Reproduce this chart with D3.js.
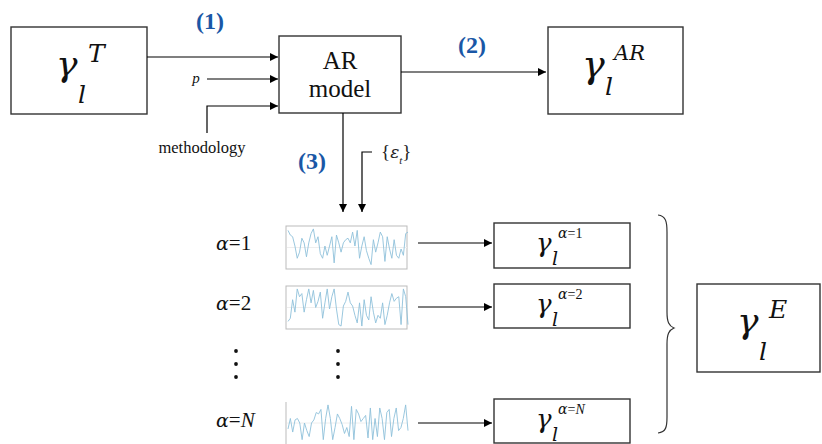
<!DOCTYPE html>
<html><head><meta charset="utf-8">
<script src="https://cdn.jsdelivr.net/npm/d3@7"></script>
<style>body{margin:0;background:#fff}svg{display:block}</style>
</head><body>
<svg id="c" width="822" height="444"></svg>
<script>
// ---- data ----
const seriesLabels = ["1", "2", "N"];
const series1 = [0.92,0.67,0.58,0.08,-0.58,-0.25,0.5,0.25,-0.5,0.25,0.75,1.0,0.25,0.58,-0.33,-0.58,0.08,-0.42,0.08,0.58,-0.83,0.67,0.25,-0.25,0.25,0.42,0.5,0.25,0.83,0.08,0.92,-0.58,0.08,0.58,-0.17,-0.58,-0.92,0.42,-0.25,0.25,0.83,0.58,-0.75,0.58,-0.08,-0.58,0.42,-0.42,-0.58,-0.08,-0.42,0.75,0.83];
const series2 = [-0.75,-0.58,0.42,-0.25,1,0.58,0.75,-0.25,0.42,1,0.25,0.92,0,0.33,0.83,-0.58,0.25,1,-0.08,0.58,1,-0.08,-0.92,-1,0.08,0.33,0.83,0.25,0.08,-0.42,-0.83,0.25,-1,0.42,-0.42,-0.67,0.58,-0.25,-0.83,-0.42,-0.58,0.25,-0.92,-0.42,0.25,0.75,0.33,0.5,0.58,-0.92,1,0.58,-0.92];
const seriesN = [-0.33,0.25,-0.5,0.17,0.25,0,-0.92,0,-0.42,-0.75,0,0.17,0.58,0.5,0.75,-0.92,0.25,1,0.25,-0.92,-0.25,0.5,0.25,-0.08,-0.58,-0.25,-0.75,0.92,-0.92,0.75,0.5,0.08,0.25,0.42,-0.83,0.83,-0.92,0.25,-0.75,0.83,0.25,-0.92,0.58,0.75,-0.75,0.25,0.83,-0.42,-0.25,0.25,1,-0.42];

const svg = d3.select("#c");
const serif = "'Liberation Serif', 'DejaVu Serif', serif";
const math = "'DejaVu Serif', 'Liberation Serif', serif";

svg.append("defs").append("marker")
  .attr("id","ah").attr("viewBox","0 0 10 10").attr("refX",10).attr("refY",5)
  .attr("markerWidth",11).attr("markerHeight",8).attr("markerUnits","userSpaceOnUse")
  .attr("orient","auto")
  .append("path").attr("d","M0,0L10,5L0,10Z").attr("fill","#000");

function box(x0,y0,x1,y1){
  svg.append("rect").attr("x",x0).attr("y",y0).attr("width",x1-x0).attr("height",y1-y0)
    .attr("fill","none").attr("stroke","#333").attr("stroke-width",1.4);
}
function arrow(pts){
  svg.append("path").attr("d", d3.line()(pts)).attr("fill","none")
    .attr("stroke","#000").attr("stroke-width",1.2).attr("marker-end","url(#ah)");
}
// o: {x, base, size, subX, subBase, subSize, supX, supBase, supSize}
function gamma(o, sup){
  const g = svg.append("g").attr("fill","#111");
  g.append("text").attr("x",o.x).attr("y",o.base).attr("font-family",math).attr("font-size",o.size).attr("font-style","italic").text("γ");
  g.append("text").attr("x",o.subX).attr("y",o.subBase).attr("font-family",math).attr("font-size",o.subSize).attr("font-style","italic").text("l");
  const t = g.append("text").attr("x",o.supX).attr("y",o.supBase).attr("font-size",o.supSize);
  sup(t);
}
function supItalic(s){ return t => t.attr("font-family",math).attr("font-style","italic").text(s); }
function supAlpha(s){ return t => {
  t.attr("font-family",serif);
  t.append("tspan").attr("font-family",math).attr("font-style","italic").text("α");
  t.append("tspan").text("=");
  t.append("tspan").attr("font-style", s==="N"?"italic":"normal").text(s);
}; }

// top row boxes
box(11,27,147,114);
gamma({x:56, base:76, size:36, subX:78, subBase:103, subSize:25, supX:88, supBase:62, supSize:25}, supItalic("T"));
box(279,36,401,113);
svg.append("text").attr("x",340).attr("y",69).attr("text-anchor","middle").attr("font-family",serif).attr("font-size",25).attr("fill","#111").text("AR");
svg.append("text").attr("x",340).attr("y",97).attr("text-anchor","middle").attr("font-family",serif).attr("font-size",25).attr("fill","#111").text("model");
box(548,27,683,114);
gamma({x:582, base:77, size:38, subX:605, subBase:95, subSize:25, supX:614, supBase:60, supSize:21}, supItalic("AR"));

// arrows into AR model
arrow([[147,57],[278,57]]);
arrow([[207,79],[278,79]]);
arrow([[207,133],[207,106],[278,106]]);
svg.append("text").attr("x",196).attr("y",83).attr("text-anchor","middle").attr("font-family",serif).attr("font-style","italic").attr("font-size",15).attr("fill","#111").text("p");
svg.append("text").attr("x",202).attr("y",153).attr("text-anchor","middle").attr("font-family",serif).attr("font-size",16.5).attr("fill","#111").text("methodology");
arrow([[401,72],[546,72]]);

// down arrows
arrow([[343,113],[343,212]]);
arrow([[372,152],[362,152],[362,212]]);
const eps = svg.append("text").attr("x",381).attr("y",158).attr("font-family",serif).attr("font-size",19).attr("fill","#222");
eps.append("tspan").text("{");
eps.append("tspan").attr("font-family",math).attr("font-style","italic").attr("font-size",17).text("ε");
eps.append("tspan").attr("font-style","italic").attr("font-size",11).attr("dy",6).text("t");
eps.append("tspan").attr("dy",-6).text("}");

// step labels
const blue = "#1a57a6";
[["(1)",210,29],["(2)",472,53],["(3)",312,169]].forEach(([s,x,y]) =>
  svg.append("text").attr("x",x).attr("y",y).attr("text-anchor","middle").attr("font-family",serif)
    .attr("font-weight","bold").attr("font-size",24).attr("fill",blue).text(s));

// rows
const rows = [
  {lab: seriesLabels[0], data: series1, y0:226, y1:269, ly:243, ay:243, by0:223, by1:268, frame:true},
  {lab: seriesLabels[1], data: series2, y0:286, y1:329, ly:303, ay:307, by0:284, by1:328, frame:true},
  {lab: seriesLabels[2], data: seriesN, y0:402, y1:444, ly:420, ay:423, by0:399, by1:443, frame:false}
];
rows.forEach(r => {
  const lt = svg.append("text").attr("x",216).attr("y",r.ly+7).attr("font-family",serif).attr("font-size",21).attr("fill","#111");
  lt.append("tspan").attr("font-family",math).attr("font-style","italic").attr("font-size",19).text("α");
  lt.append("tspan").text("=");
  lt.append("tspan").attr("font-style", r.lab==="N"?"italic":"normal").text(r.lab);

  const x = d3.scaleLinear().domain([0, r.data.length-1]).range([288, 408]);
  const y = d3.scaleLinear().domain([-1.05, 1.05]).range([r.y1-2, r.y0+2]);
  const g = svg.append("g");
  if (r.frame) {
    g.append("rect").attr("x",286).attr("y",r.y0).attr("width",121).attr("height",r.y1-r.y0)
      .attr("fill","none").attr("stroke","#bbb").attr("stroke-width",1);
  } else {
    g.append("line").attr("x1",286).attr("x2",286).attr("y1",r.y0).attr("y2",r.y1).attr("stroke","#bbb");
  }
  g.append("line").attr("x1",287).attr("x2",407).attr("y1",y(0)).attr("y2",y(0)).attr("stroke","#eee");
  g.append("path").attr("d", d3.line().x((d,i)=>x(i)).y(d=>y(d))(r.data))
    .attr("fill","none").attr("stroke","#8fc1da").attr("stroke-width",0.9);

  arrow([[418,r.ay],[492,r.ay]]);
  box(494,r.by0,630,r.by1);
  gamma({x:536, base:r.by0+29, size:26, subX:552, subBase:r.by0+42, subSize:19, supX:558, supBase:r.by0+15, supSize:14}, supAlpha(r.lab));
});

// vertical ellipses
[236,338].forEach(cx => [351,364,377].forEach(cy =>
  svg.append("circle").attr("cx",cx).attr("cy",cy).attr("r",1.9).attr("fill","#111")));

// brace
svg.append("path").attr("d","M658,215 C666,216 667,222 667,232 L667,312 C667,322 669,326 674,328 C669,330 667,334 667,344 L667,417 C667,427 666,432 658,433")
  .attr("fill","none").attr("stroke","#333").attr("stroke-width",1.2);

box(697,284,820,372);
gamma({x:737, base:333, size:36, subX:759, subBase:360, subSize:25, supX:769, supBase:318, supSize:25}, supItalic("E"));
</script>
</body></html>
